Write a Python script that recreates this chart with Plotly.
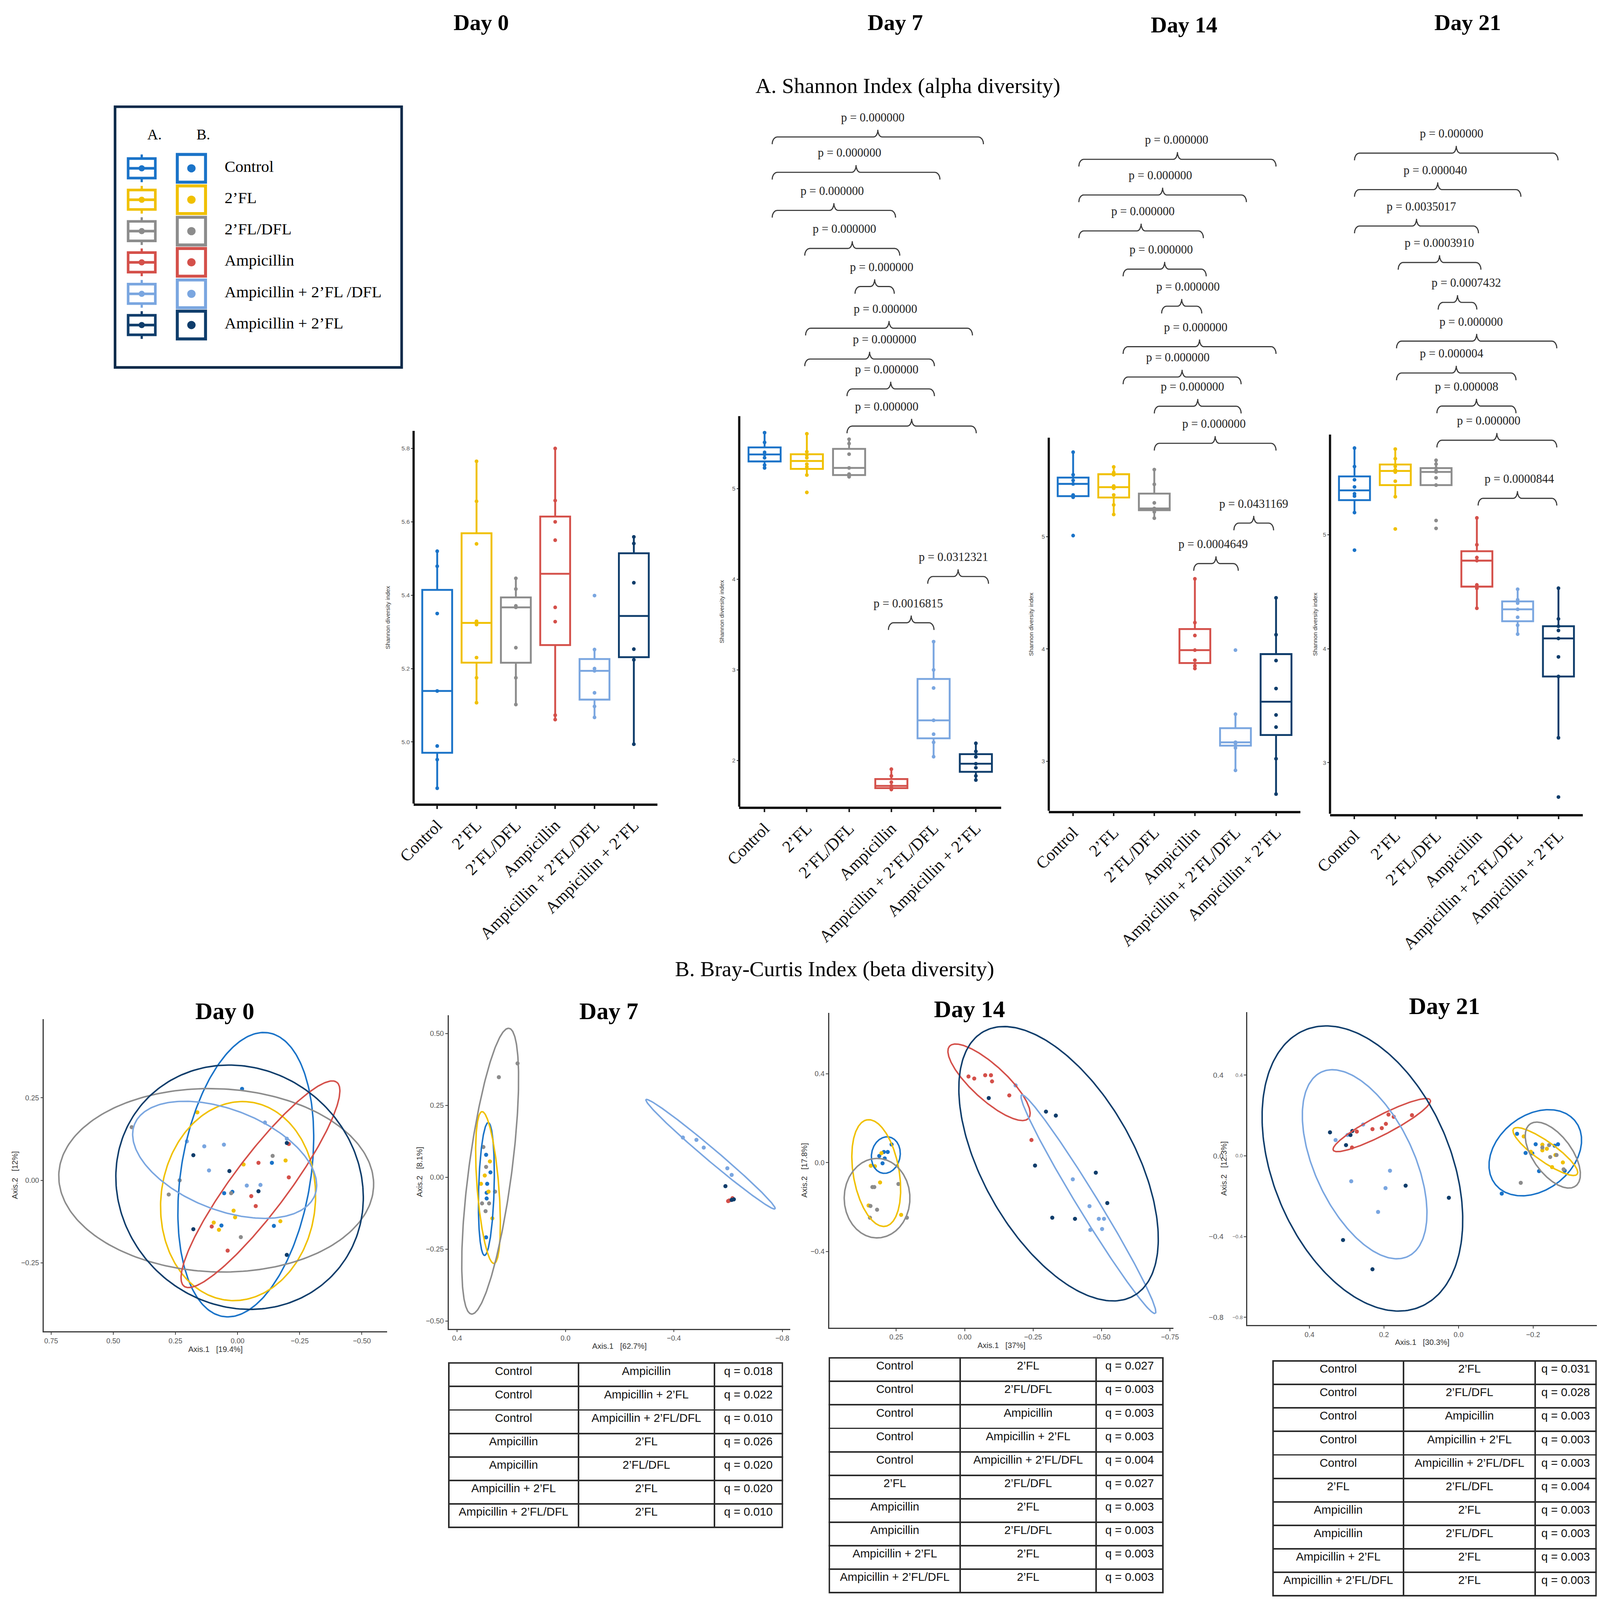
import numpy as np
import plotly.graph_objects as go

# ---------------------------------------------------------------- page geometry
W_REF, H_REF = 4245, 4326          # reference picture
VW, VH = 4096, 4096                # visible CSS viewport that is stretched to the picture
MB = 8                             # body margin of the html page
FW, FH = VW - MB, VH - MB          # figure size
ZX, ZY = VW / W_REF, VH / H_REF
Z = (ZX * ZY) ** 0.5               # size factor
S = 2.775                          # reference display px -> reference px
WD, HD = W_REF / S, H_REF / S


def px(xd):
    return (xd / WD * VW - MB) / FW


def py(yd):
    return 1 - (yd / HD * VH - MB) / FH


def sz(v):
    return v * Z


SERIF = "Liberation Serif, Times New Roman, serif"
SANS = "Liberation Sans, Arial, sans-serif"
NARROW = "Liberation Sans Narrow, Arial Narrow, Liberation Sans, sans-serif"

# ---------------------------------------------------------------- data
GROUPS = ["Control", "2’FL", "2’FL/DFL", "Ampicillin", "Ampicillin + 2’FL/DFL", "Ampicillin + 2’FL"]
LEGEND_LABELS = ["Control", "2’FL", "2’FL/DFL", "Ampicillin", "Ampicillin + 2’FL /DFL", "Ampicillin + 2’FL"]
COLORS = ["#1a73c8", "#f0c000", "#8c8c8c", "#d4504a", "#7aa6e0", "#0f3d6b"]

# Shannon diversity index, one list per group (order of GROUPS)
day0_shannon = [
    [5.520, 5.479, 5.350, 5.139, 4.989, 4.952, 4.874],
    [5.765, 5.656, 5.540, 5.329, 5.320, 5.230, 5.175, 5.107],
    [5.446, 5.417, 5.371, 5.367, 5.257, 5.175, 5.102],
    [5.800, 5.658, 5.600, 5.550, 5.367, 5.328, 5.073, 5.061],
    [5.399, 5.252, 5.200, 5.194, 5.134, 5.097, 5.067],
    [5.559, 5.541, 5.434, 5.253, 5.224, 4.994],
]
day7_shannon = [
    [5.617, 5.51, 5.40, 5.377, 5.34, 5.26, 5.228],
    [5.605, 5.407, 5.37, 5.34, 5.27, 5.24, 5.15, 4.958],
    [5.545, 5.497, 5.38, 5.228, 5.16, 5.14, 5.13],
    [1.904, 1.83, 1.76, 1.72, 1.70, 1.69, 1.68],
    [3.311, 3.0, 2.80, 2.443, 2.29, 2.2, 2.042],
    [2.19, 2.1, 2.04, 1.964, 1.92, 1.83, 1.784],
]
day14_shannon = [
    [5.751, 5.55, 5.50, 5.469, 5.37, 5.35, 5.009],
    [5.62, 5.57, 5.55, 5.45, 5.43, 5.37, 5.282, 5.197],
    [5.596, 5.465, 5.30, 5.25, 5.25, 5.22, 5.164],
    [4.624, 4.235, 4.12, 3.99, 3.90, 3.85, 3.826],
    [3.99, 3.42, 3.17, 3.169, 3.16, 3.12, 2.92],
    [4.455, 4.127, 3.897, 3.648, 3.413, 3.305, 3.023, 2.709],
]
day21_shannon = [
    [5.761, 5.599, 5.483, 5.42, 5.36, 5.34, 5.195, 4.865],
    [5.752, 5.668, 5.60, 5.57, 5.55, 5.47, 5.334, 5.051],
    [5.654, 5.62, 5.585, 5.56, 5.552, 5.50, 5.436, 5.125, 5.056],
    [5.148, 4.912, 4.80, 4.773, 4.56, 4.53, 4.355],
    [4.522, 4.43, 4.40, 4.346, 4.276, 4.206, 4.128],
    [4.531, 4.262, 4.197, 4.16, 4.09, 3.928, 3.756, 3.218, 2.698],
]

# pairwise comparisons: bracket start / end (group index units), bracket level, label x, p value
br7_start = [0.18, 0.18, 0.18, 0.95, 2.14, 0.97, 0.95, 1.95, 1.95, 3.86, 2.93]
br7_end = [5.18, 4.15, 3.10, 3.20, 3.07, 4.92, 4.02, 4.02, 5.01, 5.30, 4.01]
br7_level = [8.88, 8.49, 8.07, 7.65, 7.23, 6.77, 6.43, 6.10, 5.69, 4.03, 3.52]
br7_labx = [2.56, 2.01, 1.60, 1.89, 2.77, 2.86, 2.84, 2.89, 2.89, 4.47, 3.40]
br7_p = ["0.000000"] * 9 + ["0.0312321", "0.0016815"]

br14_start = [0.14, 0.14, 0.14, 1.23, 2.18, 1.23, 1.23, 2.0, 2.0, 3.96, 2.97]
br14_end = [5.0, 4.27, 3.21, 3.28, 3.17, 5.0, 4.14, 4.14, 5.0, 4.94, 4.07]
br14_level = [8.357, 8.04, 7.72, 7.38, 7.05, 6.69, 6.42, 6.16, 5.83, 5.12, 4.76]
br14_labx = [2.55, 2.15, 1.72, 2.17, 2.83, 3.02, 2.58, 2.94, 3.47, 4.45, 3.45]
br14_p = ["0.000000"] * 9 + ["0.0431169", "0.0004649"]

br21_start = [0.0, 0.0, 0.0, 1.07, 2.05, 1.03, 1.03, 2.02, 2.02, 3.03]
br21_end = [4.99, 4.08, 3.04, 3.10, 3.0, 4.96, 3.96, 3.96, 4.96, 4.96]
br21_level = [8.35, 8.03, 7.71, 7.39, 7.04, 6.70, 6.42, 6.13, 5.83, 5.32]
br21_labx = [2.38, 1.98, 1.64, 2.08, 2.74, 2.86, 2.38, 2.75, 3.29, 4.04]
br21_p = ["0.000000", "0.000040", "0.0035017", "0.0003910", "0.0007432",
          "0.000000", "0.000004", "0.000008", "0.000000", "0.0000844"]

# PCoA (Bray-Curtis) coordinates, per group
d0_pc1 = [
    [-0.018, -0.138, 0.054, 0.021, 0.065, -0.146],
    [0.162, -0.024, -0.193, 0.016, 0.010, 0.096, 0.075, -0.172],
    [0.426, 0.233, 0.277, -0.141, 0.026, -0.013],
    [-0.206, -0.084, -0.206, -0.055, -0.073, 0.104, 0.040],
    [0.204, 0.134, 0.055, 0.115, -0.037, -0.092, -0.110, -0.198],
    [0.178, 0.033, -0.084, 0.178, -0.198, -0.198],
]
d0_pc2 = [
    [0.277, 0.053, -0.039, -0.035, -0.137, -0.138],
    [0.206, 0.048, 0.060, -0.092, -0.112, -0.128, -0.150, -0.124],
    [0.161, 0.0, -0.043, 0.074, -0.039, -0.172],
    [0.110, 0.053, 0.009, -0.048, -0.078, -0.140, -0.213],
    [0.118, 0.103, 0.108, 0.030, -0.016, -0.014, 0.175, 0.126],
    [0.076, 0.028, -0.033, -0.148, -0.226, 0.113],
]
d7_pc1 = [
    [0.293, 0.277, 0.289, 0.291, 0.291, 0.293],
    [0.279, 0.298, 0.312, 0.284, 0.270],
    [0.177, 0.246, 0.303, 0.293, 0.260, 0.308, 0.282, 0.295],
    [-0.604, -0.616, -0.600],
    [-0.433, -0.483, -0.510, -0.597, -0.613],
    [-0.590, -0.621, -0.613],
]
d7_pc2 = [
    [0.078, 0.017, -0.023, -0.054, -0.074, -0.209],
    [0.055, 0.006, -0.023, -0.050, -0.143],
    [0.396, 0.348, 0.105, 0.036, -0.050, -0.091, -0.091, -0.118],
    [-0.081, -0.073, -0.083],
    [0.138, 0.130, 0.103, 0.031, 0.008],
    [-0.031, -0.077, -0.079],
]
d14_pc1 = [
    [0.267, 0.281, 0.295, 0.312, 0.292, 0.300],
    [0.304, 0.343, 0.328, 0.309, 0.351, 0.232],
    [0.337, 0.330, 0.242, 0.344, 0.320, 0.346, 0.211],
    [-0.014, -0.035, -0.075, -0.096, -0.100, -0.163, -0.244],
    [-0.186, -0.395, -0.456, -0.490, -0.509, -0.459, -0.502],
    [-0.088, -0.297, -0.333, -0.257, -0.479, -0.521, -0.320, -0.403],
]
d14_pc2 = [
    [0.082, 0.048, 0.048, 0.030, 0.019, -0.003],
    [0.043, -0.014, -0.016, -0.089, -0.193, -0.235],
    [-0.110, -0.110, -0.096, -0.195, -0.212, -0.248, -0.248],
    [0.388, 0.379, 0.394, 0.394, 0.366, 0.303, 0.102],
    [0.348, -0.075, -0.196, -0.253, -0.253, -0.303, -0.299],
    [0.291, 0.230, 0.212, -0.013, -0.045, -0.182, -0.248, -0.253],
]
d21_pc1 = [
    [-0.116, -0.157, -0.180, -0.198, -0.207, -0.216, -0.258, -0.267, -0.285],
    [-0.175, -0.194, -0.225, -0.225, -0.237, -0.260, -0.280, -0.251],
    [-0.167, -0.225, -0.243, -0.246, -0.263, -0.282],
    [0.273, 0.286, 0.231, 0.206, 0.195, 0.188, 0.174, 0.125],
    [0.330, 0.298, 0.256, 0.184, 0.288, 0.196, 0.216],
    [0.345, 0.290, 0.302, 0.285, 0.142, 0.026, 0.310, 0.231],
]
d21_pc2 = [
    [-0.187, 0.109, 0.014, 0.012, 0.057, -0.076, 0.050, 0.057, -0.074],
    [0.096, 0.020, 0.055, 0.027, 0.035, 0.004, -0.033, -0.056],
    [-0.134, 0.041, 0.053, -0.006, 0.004, -0.067],
    [0.120, 0.041, 0.132, 0.137, 0.158, 0.204, 0.193, 0.201],
    [0.078, 0.103, 0.155, -0.074, -0.126, -0.160, -0.278],
    [0.116, 0.103, 0.053, 0.123, -0.148, -0.208, -0.417, -0.562],
]

# 95% ellipses: centre (cx, cy) and two conjugate semi-axes (ux, uy), (vx, vy); None = not drawn
d0_ellipses = [
    (-0.033, 0.017, -0.087, 0.430, -0.259, -0.024),
    (-0.002, -0.063, -0.034, 0.301, -0.310, -0.016),
    (0.086, 0.000, -0.633, -0.021, 0.020, -0.277),
    (-0.092, -0.012, -0.305, 0.310, -0.095, -0.043),
    (0.052, 0.062, -0.358, -0.115, 0.094, -0.135),
    (-0.008, -0.021, -0.496, 0.000, -0.042, -0.370),
]
d7_ellipses = [
    (0.292, -0.041, -0.0067, 0.231, -0.0286, 0.0),
    (0.286, -0.036, 0.022, 0.264, -0.040, 0.002),
    (0.278, 0.021, -0.069, 0.497, -0.079, -0.008),
    None,
    (-0.535, 0.080, -0.238, -0.190, 0.016, -0.015),
    None,
]
d14_ellipses = [
    (0.288, 0.034, -0.0093, 0.082, -0.052, -0.007),
    (0.323, -0.047, 0.0327, 0.240, -0.083, 0.015),
    (0.320, -0.160, 0.0, 0.179, -0.120, 0.0),
    (-0.089, 0.362, -0.143, -0.164, 0.046, -0.053),
    (-0.452, -0.187, -0.244, -0.492, 0.033, -0.021),
    (-0.343, -0.005, -0.265, -0.601, 0.250, -0.144),
]
d21_ellipses = [
    (-0.206, 0.015, -0.095, 0.179, -0.080, -0.116),
    (-0.233, 0.021, -0.085, -0.113, 0.018, -0.036),
    (-0.253, 0.0035, -0.058, -0.157, 0.046, -0.045),
    (0.206, 0.152, -0.130, 0.125, -0.014, -0.041),
    (0.252, -0.042, -0.110, -0.461, 0.126, -0.081),
    (0.258, -0.063, -0.140, -0.695, 0.230, -0.124),
]

# pairwise q-values
t7_a = ["Control", "Control", "Control", "Ampicillin", "Ampicillin", "Ampicillin + 2’FL", "Ampicillin + 2’FL/DFL"]
t7_b = ["Ampicillin", "Ampicillin + 2’FL", "Ampicillin + 2’FL/DFL", "2’FL", "2’FL/DFL", "2’FL", "2’FL"]
t7_q = ["0.018", "0.022", "0.010", "0.026", "0.020", "0.020", "0.010"]

t14_a = ["Control", "Control", "Control", "Control", "Control", "2’FL", "Ampicillin", "Ampicillin",
         "Ampicillin + 2’FL", "Ampicillin + 2’FL/DFL"]
t14_b = ["2’FL", "2’FL/DFL", "Ampicillin", "Ampicillin + 2’FL", "Ampicillin + 2’FL/DFL", "2’FL/DFL",
         "2’FL", "2’FL/DFL", "2’FL", "2’FL"]
t14_q = ["0.027", "0.003", "0.003", "0.003", "0.004", "0.027", "0.003", "0.003", "0.003", "0.003"]

t21_a = list(t14_a)
t21_b = list(t14_b)
t21_q = ["0.031", "0.028", "0.003", "0.003", "0.003", "0.004", "0.003", "0.003", "0.003", "0.003"]

# ---------------------------------------------------------------- layout (reference display px)
BOX_PANELS = [
    dict(data=day0_shannon, cat0=418, step=37.6, ybot=783, ymin=4.832, ymax=5.848, ppu=357.5,
         axis_top=5.848, ticks=[5.0, 5.2, 5.4, 5.6, 5.8], fmt=".1f", tdx=25, br=None),
    dict(data=day7_shannon, cat0=731, step=40.4, ybot=786, ymin=1.49, ymax=9.3, ppu=88.3,
         axis_top=5.80, ticks=[2, 3, 4, 5], fmt="d", tdx=17,
         br=(br7_start, br7_end, br7_level, br7_labx, br7_p)),
    dict(data=day14_shannon, cat0=1026, step=38.8, ybot=790, ymin=2.56, ymax=8.65, ppu=109.5,
         axis_top=5.88, ticks=[3, 4, 5], fmt="d", tdx=17,
         br=(br14_start, br14_end, br14_level, br14_labx, br14_p)),
    dict(data=day21_shannon, cat0=1295, step=39.0, ybot=793, ymin=2.55, ymax=8.62, ppu=111.0,
         axis_top=5.88, ticks=[3, 4, 5], fmt="d", tdx=14,
         br=(br21_start, br21_end, br21_level, br21_labx, br21_p)),
]

PCOA_PANELS = [
    dict(x0=42, x1=370, ytop=993, ybot=1297, xr=[0.779, -0.601], yr=[-0.457, 0.488],
         xt=[0.75, 0.5, 0.25, 0, -0.25, -0.5], yt=[0.25, 0, -0.25], xf=".2f", yf=".2f",
         xtitle="Axis.1   [19.4%]", ytitle="Axis.2   [12%]", title="Day 0", tx=215, ty=985,
         pc1=d0_pc1, pc2=d0_pc2, ell=d0_ellipses),
    dict(x0=429, x1=755.5, ytop=989, ybot=1294.6, xr=[0.431, -0.829], yr=[-0.527, 0.564],
         xt=[0.4, 0, -0.4, -0.8], yt=[0.5, 0.25, 0, -0.25, -0.5], xf=".1f", yf=".2f",
         xtitle="Axis.1   [62.7%]", ytitle="Axis.2   [8.1%]", title="Day 7", tx=582, ty=985,
         pc1=d7_pc1, pc2=d7_pc2, ell=d7_ellipses),
    dict(x0=793, x1=1122, ytop=987, ybot=1293.5, xr=[0.494, -0.763], yr=[-0.743, 0.674],
         xt=[0.25, 0, -0.25, -0.5, -0.75], yt=[0.4, 0, -0.4], xf=".2f", yf=".1f",
         xtitle="Axis.1   [37%]", ytitle="Axis.2   [17.8%]", title="Day 14", tx=927, ty=983,
         pc1=d14_pc1, pc2=d14_pc2, ell=d14_ellipses),
    dict(x0=1192.5, x1=1527, ytop=986, ybot=1291, xr=[0.567, -0.372], yr=[-0.838, 0.712],
         xt=[0.4, 0.2, 0, -0.2], yt=[0.4, 0, -0.4, -0.8], xf=".1f", yf=".1f",
         xtitle="Axis.1   [30.3%]", ytitle="Axis.2   [12.3%]", title="Day 21", tx=1381, ty=980,
         pc1=d21_pc1, pc2=d21_pc2, ell=d21_ellipses),
]

TABLES = [
    dict(a=t7_a, b=t7_b, q=t7_q, x0=429, x1=748, ytop=1328, widths=[124, 130, 65]),
    dict(a=t14_a, b=t14_b, q=t14_q, x0=793, x1=1112, ytop=1323, widths=[125, 130, 64]),
    dict(a=t21_a, b=t21_b, q=t21_q, x0=1217, x1=1526, ytop=1326, widths=[125, 126, 58]),
]
ROW_H = 63.5   # reference px


def names(i):
    s = "" if i == 1 else str(i)
    return "xaxis" + s, "yaxis" + s, "x" + s, "y" + s


def brace_path(x1, x2, y, h, dxe, dxc, n=12):
    xc = (x1 + x2) / 2
    t = np.linspace(0, np.pi / 2, n)
    xs, ys = [], []
    xs += list(x1 + dxe - dxe * np.cos(t)); ys += list(y - h + h * np.sin(t))
    xs += list(xc - dxc + dxc * np.sin(t)); ys += list(y + h - h * np.cos(t))
    xs += list(xc + dxc - dxc * np.cos(t)); ys += list(y + h - h * np.sin(t))
    xs += list(x2 - dxe + dxe * np.sin(t)); ys += list(y - h + h * np.cos(t))
    return xs + [None], ys + [None]


def ellipse_xy(e, n=240):
    t = np.linspace(0, 2 * np.pi, n)
    cx, cy, ux, uy, vx, vy = e
    return cx + ux * np.cos(t) + vx * np.sin(t), cy + uy * np.cos(t) + vy * np.sin(t)


def box_stats(vals):
    # Tukey box statistics as in R / ggplot2 (quantile type 7, 1.5 IQR whiskers)
    q1, med, q3 = np.percentile(vals, [25, 50, 75])
    iqr = q3 - q1
    lo = min(v for v in vals if v >= q1 - 1.5 * iqr)
    hi = max(v for v in vals if v <= q3 + 1.5 * iqr)
    return q1, med, q3, lo, hi


fig = go.Figure()
lay = {}
shapes = []
ann = []

# ---------------------------------------------------------------- A. box plots
for k, p in enumerate(BOX_PANELS):
    i = k + 1
    xa, ya, xr, yr = names(i)
    x0 = p["cat0"] - 0.6 * p["step"]
    x1 = p["cat0"] + 5.6 * p["step"]
    ytop_d = p["ybot"] - (p["ymax"] - p["ymin"]) * p["ppu"]
    for gi, vals in enumerate(p["data"]):
        q1, med, q3, lo, hi = box_stats(vals)
        fig.add_trace(go.Box(
            x=[gi], q1=[q1], median=[med], q3=[q3], lowerfence=[lo], upperfence=[hi],
            orientation="v", xaxis=xr, yaxis=yr, name=GROUPS[gi],
            line=dict(color=COLORS[gi], width=sz(5)), fillcolor="rgba(255,255,255,0)",
            boxpoints=False, width=0.76, whiskerwidth=0, showlegend=False, hoverinfo="skip"))
        fig.add_trace(go.Scatter(
            x=[gi] * len(vals), y=vals, mode="markers", xaxis=xr, yaxis=yr,
            marker=dict(color=COLORS[gi], size=sz(10)), showlegend=False, hoverinfo="skip"))
    lay[xa] = dict(domain=[px(x0), px(x1)], range=[-0.6, 5.6], anchor=yr, automargin=False,
                   tickvals=list(range(6)), ticktext=GROUPS, tickangle=-45,
                   tickfont=dict(family=SERIF, size=sz(45), color="#111"),
                   showline=True, linecolor="#111", linewidth=sz(6), ticks="outside",
                   ticklen=sz(8), tickwidth=sz(4), tickcolor="#222", showgrid=False, zeroline=False)
    lay[ya] = dict(domain=[py(p["ybot"]), py(ytop_d)], range=[p["ymin"], p["ymax"]], anchor=xr,
                   automargin=False, tickvals=p["ticks"], tickformat=p["fmt"],
                   tickfont=dict(family=SANS, size=sz(16), color="#555"), showline=False,
                   ticks="outside", ticklen=sz(6), tickwidth=sz(2), tickcolor="#333",
                   showgrid=False, zeroline=False)
    shapes.append(dict(type="line", xref=xr + " domain", yref=yr, x0=0, x1=0,
                       y0=p["ymin"], y1=p["axis_top"], line=dict(color="#111", width=sz(6))))
    ann.append(dict(text="Shannon diversity index", xref=xr + " domain", x=0,
                    xshift=-p["tdx"] * S * ZX, yref=yr, y=(p["ymin"] + p["axis_top"]) / 2,
                    textangle=-90, showarrow=False, xanchor="center", yanchor="middle",
                    font=dict(family=NARROW, size=sz(16), color="#333")))
    if p["br"]:
        bs, be, bl, bx, bp = p["br"]
        h = 7 / p["ppu"]
        off = 18 / p["ppu"]
        bxs, bys = [], []
        for a, b, lv in zip(bs, be, bl):
            xs_, ys_ = brace_path(a, b, lv, h, 0.12, 0.10)
            bxs += xs_
            bys += ys_
        fig.add_trace(go.Scatter(x=bxs, y=bys, mode="lines", xaxis=xr, yaxis=yr,
                                 line=dict(color="#3a3a3a", width=sz(3)), showlegend=False,
                                 hoverinfo="skip"))
        fig.add_trace(go.Scatter(x=bx, y=[lv + off for lv in bl], mode="text", xaxis=xr, yaxis=yr,
                                 text=["p = " + v for v in bp], textposition="middle center",
                                 textfont=dict(family=SERIF, size=sz(32), color="#222"),
                                 cliponaxis=False, showlegend=False, hoverinfo="skip"))

# ---------------------------------------------------------------- B. PCoA
for k, p in enumerate(PCOA_PANELS):
    i = k + 5
    xa, ya, xr, yr = names(i)
    for gi in range(6):
        fig.add_trace(go.Scatter(x=p["pc1"][gi], y=p["pc2"][gi], mode="markers", xaxis=xr, yaxis=yr,
                                 marker=dict(color=COLORS[gi], size=sz(11)), showlegend=False,
                                 hoverinfo="skip"))
    for gi in range(6):
        e = p["ell"][gi]
        if e is None:
            continue
        ex, ey = ellipse_xy(e)
        fig.add_trace(go.Scatter(x=ex, y=ey, mode="lines", xaxis=xr, yaxis=yr,
                                 line=dict(color=COLORS[gi], width=sz(4)), showlegend=False,
                                 hoverinfo="skip"))
    small = (k == 3)
    lay[xa] = dict(domain=[px(p["x0"]), px(p["x1"])], range=p["xr"], anchor=yr, automargin=False,
                   tickvals=p["xt"], tickformat=p["xf"],
                   tickfont=dict(family=SANS, size=sz(19), color="#555"),
                   title=dict(text=p["xtitle"].replace(" ", "\u00a0"), standoff=sz(4),
                              font=dict(family=SANS, size=sz(21), color="#333")),
                   showline=True, linecolor="#3a3a3a", linewidth=sz(3.5), ticks="outside",
                   ticklen=sz(6), tickwidth=sz(2), tickcolor="#444", showgrid=False, zeroline=False)
    lay[ya] = dict(domain=[py(p["ybot"]), py(p["ytop"])], range=p["yr"], anchor=xr, automargin=False,
                   tickvals=p["yt"], tickformat=p["yf"],
                   tickfont=dict(family=SANS, size=sz(14 if small else 19),
                                 color="#666" if small else "#555"),
                   title=dict(text=p["ytitle"].replace(" ", "\u00a0"), standoff=sz(10 if small else 4),
                              font=dict(family=SANS, size=sz(21), color="#333")),
                   showline=True, linecolor="#3a3a3a", linewidth=sz(3.5), ticks="outside",
                   ticklen=sz(6), tickwidth=sz(2), tickcolor="#444", showgrid=False, zeroline=False)
    ann.append(dict(text="<b>" + p["title"] + "</b>", x=px(p["tx"]), y=py(p["ty"]), xref="paper",
                    yref="paper", showarrow=False, xanchor="center", yanchor="middle",
                    font=dict(family=SERIF, size=sz(64), color="#000")))
    if small:
        # duplicated (overlaid) tick labels visible in the reference
        lay["yaxis9"] = dict(overlaying=yr, anchor=xr, side="left", range=p["yr"], automargin=False,
                             tickvals=p["yt"], tickformat=p["yf"], showline=False, ticks="",
                             ticklabelstandoff=int(round(62 * ZX)), showgrid=False, zeroline=False,
                             tickfont=dict(family=SANS, size=sz(20), color="#555"))
        fig.add_trace(go.Scatter(x=[0.0], y=[0.0], xaxis=xr, yaxis="y9", mode="markers",
                                 marker=dict(opacity=0), showlegend=False, hoverinfo="skip"))

# ---------------------------------------------------------------- tables
for t in TABLES:
    rows = list(zip(t["a"], t["b"], ["q = " + v for v in t["q"]]))
    head = list(rows[0])
    body = rows[1:]
    style = dict(align="center", height=ROW_H * ZY, line=dict(color="#2b2b2b", width=sz(4)),
                 fill=dict(color="white"), font=dict(family=SANS, size=sz(31), color="#111"))
    fig.add_trace(go.Table(
        domain=dict(x=[px(t["x0"]), px(t["x1"])], y=[0, py(t["ytop"])]),
        columnwidth=t["widths"],
        header=dict(values=head, **style),
        cells=dict(values=[[r[c] for r in body] for c in range(3)], **style)))

# ---------------------------------------------------------------- legend box
shapes.append(dict(type="rect", xref="paper", yref="paper", x0=px(110), x1=px(384),
                   y0=py(358), y1=py(104), line=dict(color="#0d2a4a", width=sz(7))))
ann.append(dict(text="A.", x=px(140), y=py(122), xref="paper", yref="paper", showarrow=False,
                font=dict(family=SERIF, size=sz(40), color="#000")))
ann.append(dict(text="B.", x=px(187), y=py(122), xref="paper", yref="paper", showarrow=False,
                font=dict(family=SERIF, size=sz(40), color="#000")))
row_y = [164, 194.6, 225.2, 255.6, 286.3, 316.7]
for gi, yc in enumerate(row_y):
    c = COLORS[gi]
    # A icon (mini boxplot)
    shapes.append(dict(type="rect", xref="paper", yref="paper", x0=px(122.5), x1=px(148.5),
                       y0=py(yc + 9.5), y1=py(yc - 9.5), line=dict(color=c, width=sz(7))))
    shapes.append(dict(type="line", xref="paper", yref="paper", x0=px(122.5), x1=px(148.5),
                       y0=py(yc), y1=py(yc), line=dict(color=c, width=sz(7))))
    shapes.append(dict(type="line", xref="paper", yref="paper", x0=px(135.5), x1=px(135.5),
                       y0=py(yc - 9.5), y1=py(yc - 13.5), line=dict(color=c, width=sz(6))))
    shapes.append(dict(type="line", xref="paper", yref="paper", x0=px(135.5), x1=px(135.5),
                       y0=py(yc + 9.5), y1=py(yc + 13.5), line=dict(color=c, width=sz(6))))
    shapes.append(dict(type="circle", xref="paper", yref="paper", x0=px(132.5), x1=px(138.5),
                       y0=py(yc + 3), y1=py(yc - 3), fillcolor=c, line=dict(width=0)))
    # B icon (point in square)
    shapes.append(dict(type="rect", xref="paper", yref="paper", x0=px(169.5), x1=px(196.5),
                       y0=py(yc + 13.5), y1=py(yc - 13.5), line=dict(color=c, width=sz(8)),
                       fillcolor="white"))
    shapes.append(dict(type="circle", xref="paper", yref="paper", x0=px(179), x1=px(187),
                       y0=py(yc + 4), y1=py(yc - 4), fillcolor=c, line=dict(width=0)))
    ann.append(dict(text=LEGEND_LABELS[gi], x=px(214), y=py(yc - 2), xref="paper", yref="paper",
                    showarrow=False, xanchor="left", yanchor="middle",
                    font=dict(family=SERIF, size=sz(43), color="#000")))

# ---------------------------------------------------------------- headings
for txt, xd, yd in [("Day 0", 460, 22), ("Day 7", 856, 22), ("Day 14", 1132, 24), ("Day 21", 1403, 22)]:
    ann.append(dict(text="<b>" + txt + "</b>", x=px(xd), y=py(yd), xref="paper", yref="paper",
                    showarrow=False, xanchor="center", yanchor="middle",
                    font=dict(family=SERIF, size=sz(60), color="#000")))
ann.append(dict(text="A. Shannon Index (alpha diversity)", x=px(868), y=py(71), xref="paper",
                yref="paper", showarrow=False, font=dict(family=SERIF, size=sz(58), color="#000")))
ann.append(dict(text="B. Bray-Curtis Index (beta diversity)", x=px(798), y=py(944), xref="paper",
                yref="paper", showarrow=False, font=dict(family=SERIF, size=sz(58), color="#000")))

fig.update_layout(width=FW, height=FH, margin=dict(l=0, r=0, t=0, b=0, pad=0), autosize=False,
                  showlegend=False, paper_bgcolor="white", plot_bgcolor="rgba(0,0,0,0)",
                  boxmode="overlay", shapes=shapes, annotations=ann, **lay)
fig.write_html("out.html")
